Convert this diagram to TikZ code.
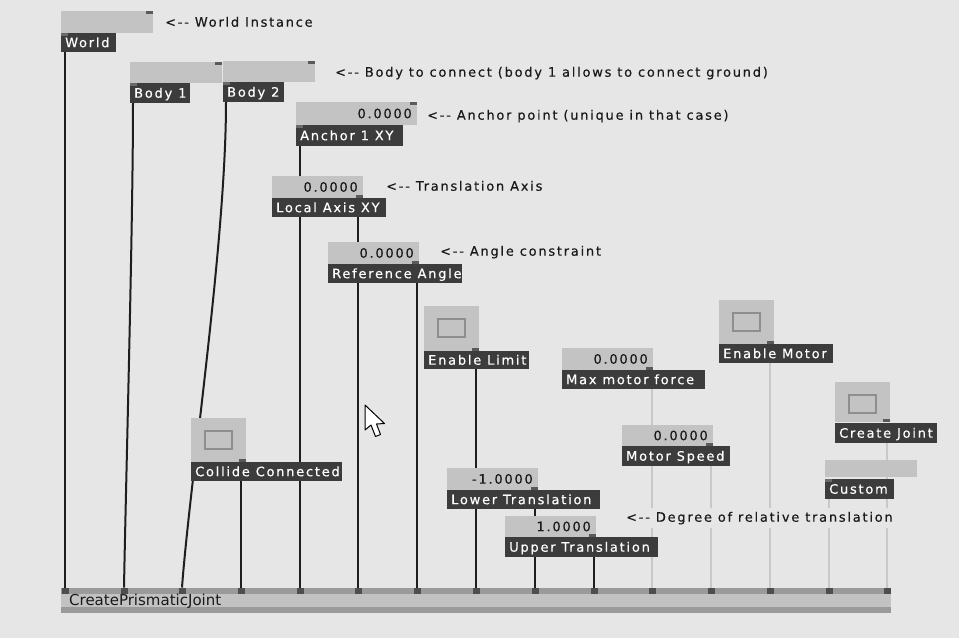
\documentclass[tikz,border=0pt]{standalone}
\usepackage{fontspec}
\newfontfamily\vfont[LetterSpace=13.5,FakeBold=0.4]{DejaVu Sans}
\newfontfamily\nfont{DejaVu Sans}
\newcommand{\lblfont}{\vfont\fontsize{13}{15}\selectfont}
\newcommand{\nodefont}{\nfont\fontsize{15}{17}\selectfont}

\definecolor{canvas}{HTML}{E6E6E6}
\definecolor{valgray}{HTML}{C3C3C3}
\definecolor{lbldark}{HTML}{3C3C3C}
\definecolor{tabdark}{HTML}{5A5A5A}
\definecolor{tablight}{HTML}{6A6A6A}
\definecolor{pinfill}{HTML}{4E4E4E}
\definecolor{numink}{HTML}{1A1A1A}
\definecolor{linkdark}{HTML}{1E1E1E}
\definecolor{linklight}{HTML}{C8C8C8}
\definecolor{nodeedge}{HTML}{9A9A9A}
\definecolor{nodebody}{HTML}{C2C2C2}
\definecolor{togglein}{HTML}{8E8E8E}

\pgfdeclarelayer{canvaslayer}
\pgfdeclarelayer{linklayer}
\pgfsetlayers{canvaslayer,linklayer,main}

\tikzset{
  box/.style={inner sep=0pt, outer sep=0pt, anchor=north west, draw=none},
  valbox/.style={box, fill=valgray},
  lblbox/.style={box, fill=lbldark},
  toggleinner/.style={box, draw=togglein, line width=1.2pt, fill=valgray,
    minimum width=27pt, minimum height=18pt},
  lbltext/.style={anchor=base west, inner sep=0pt, text=white, font=\lblfont},
  numtext/.style={anchor=base east, inner sep=0pt, text=numink, font=\lblfont},
  note/.style={anchor=base west, inner sep=0pt, text=numink, font=\lblfont},
  tabsq/.style={inner sep=0pt, outer sep=0pt, fill=tabdark,
    minimum width=7pt, minimum height=3pt},
  tabsoft/.style={tabsq, fill=tablight},
  pinsq/.style={inner sep=0pt, outer sep=0pt, fill=pinfill,
    minimum width=7pt, minimum height=6pt},
  linkd/.style={draw=linkdark, line width=2pt},
  linkl/.style={draw=linklight, line width=1.9pt},
}

% value box: name, x, y, w, h
\newcommand{\ioval}[5]{\node[valbox, minimum width=#4pt, minimum height=#5pt] (#1) at (#2,#3) {};}
% value box with a number: name, x, y, w, h, number
\newcommand{\ionum}[6]{\ioval{#1}{#2}{#3}{#4}{#5}%
  \node[numtext] (#1t) at ([xshift=-5pt,yshift=-4.7pt]#1.east) {#6};}
% toggle: name, x, y, w, h
\newcommand{\iotoggle}[5]{\ioval{#1}{#2}{#3}{#4}{#5}%
  \node[toggleinner] (#1i) at ([xshift=14pt,yshift=-13pt]#1.north west) {};}
% dark label: name, x, y, w, h, text
\newcommand{\iolabel}[6]{\node[lblbox, minimum width=#4pt, minimum height=#5pt] (#1) at (#2,#3) {};%
  \node[lbltext] (#1t) at ([xshift=4pt,yshift=-4.7pt]#1.west) {#6};}

\begin{document}
\begin{tikzpicture}[x=1pt,y=-1pt]
\useasboundingbox (0,0) rectangle (959,638);
\begin{pgfonlayer}{canvaslayer}
  \fill[canvas] (0,0) rectangle (959,638);
\end{pgfonlayer}

% ---- inputs ----
\ioval{worldV}{61}{11}{92}{22}
\node[tabsq, anchor=north east] (worldVp) at (worldV.north east) {};
\iolabel{worldL}{61}{33}{55}{19}{World}
\node[tabsoft, anchor=north west] (worldLp) at (worldL.north west) {};

\ioval{bodyaV}{130}{62}{92}{21}
\node[tabsq, anchor=north east] (bodyaVp) at (bodyaV.north east) {};
\iolabel{bodyaL}{130}{83}{60}{20}{Body 1}
\node[tabsoft, anchor=north west] (bodyaLp) at (bodyaL.north west) {};

\ioval{bodybV}{223}{61}{92}{21}
\node[tabsq, anchor=north east] (bodybVp) at (bodybV.north east) {};
\iolabel{bodybL}{223}{82}{61}{20}{Body 2}
\node[tabsoft, anchor=north west] (bodybLp) at (bodybL.north west) {};

\ionum{anchorV}{296}{102}{121}{23}{0.0000}
\node[tabsq, anchor=north east] (anchorVp) at (anchorV.north east) {};
\iolabel{anchorL}{296}{125}{107}{21}{Anchor 1 XY}
\node[tabsoft, anchor=north west] (anchorLp) at (anchorL.north west) {};

\ionum{axisV}{272}{176}{91}{22}{0.0000}
\node[tabsq, anchor=south east] (axisVp) at (axisV.south east) {};
\iolabel{axisL}{272}{198}{114}{19}{Local Axis XY}

\ionum{refV}{328}{242}{91}{22}{0.0000}
\node[tabsq, anchor=south east] (refVp) at (refV.south east) {};
\iolabel{refL}{328}{264}{134}{19}{Reference Angle}

\iotoggle{collT}{191}{418}{55}{44}
\node[tabsq, anchor=south east] (collTp) at (collT.south east) {};
\iolabel{collL}{191}{462}{151}{19}{Collide Connected}

\iotoggle{limT}{424}{306}{55}{45}
\node[tabsq, anchor=south east] (limTp) at (limT.south east) {};
\iolabel{limL}{424}{351}{105}{18}{Enable Limit}

\ionum{forceV}{562}{348}{91}{22}{0.0000}
\node[tabsq, anchor=south east] (forceVp) at (forceV.south east) {};
\iolabel{forceL}{562}{370}{143}{19}{Max motor force}

\ionum{speedV}{622}{425}{91}{21}{0.0000}
\node[tabsq, anchor=south east] (speedVp) at (speedV.south east) {};
\iolabel{speedL}{622}{446}{108}{20}{Motor Speed}

\ionum{lowV}{447}{468}{91}{22}{-1.0000}
\node[tabsq, anchor=south east] (lowVp) at (lowV.south east) {};
\iolabel{lowL}{447}{490}{153}{19}{Lower Translation}

\ionum{upV}{505}{516}{91}{21}{1.0000}
\node[tabsq, anchor=south east] (upVp) at (upV.south east) {};
\iolabel{upL}{505}{537}{153}{20}{Upper Translation}

\iotoggle{motT}{719}{300}{55}{44}
\node[tabsq, anchor=south east] (motTp) at (motT.south east) {};
\iolabel{motL}{719}{344}{114}{19}{Enable Motor}

\iotoggle{jointT}{835}{382}{55}{40}
\node[tabsq, anchor=south east] (jointTp) at (jointT.south east) {};
\iolabel{jointL}{835}{423}{102}{20}{Create Joint}

\ioval{custV}{825}{460}{92}{17}
\iolabel{custL}{825}{479}{69}{20}{Custom}
\node[tabsoft, anchor=north west] (custLp) at (custL.north west) {};

% ---- comments ----
\node[note] (noteWorld) at (165,26.7) {<-- World Instance};
\node[note] (noteBody) at (335,76.7) {<-- Body to connect (body 1 allows to connect ground)};
\node[note] (noteAnchor) at (427,119.7) {<-- Anchor point (unique in that case)};
\node[note] (noteAxis) at (386,190.7) {<-- Translation Axis};
\node[note] (noteAngle) at (440,255.7) {<-- Angle constraint};
\node[note, fill=canvas, inner ysep=4pt, inner xsep=1pt] (noteDeg) at (625,521.7) {<-- Degree of relative translation};

% ---- CreatePrismaticJoint node ----
\node[box, fill=nodebody, minimum width=830pt, minimum height=25pt] (cpj) at (61,588) {};
\fill[nodeedge] (cpj.north west) rectangle ([yshift=-6pt]cpj.north east);
\fill[nodeedge] ([yshift=6pt]cpj.south west) rectangle (cpj.south east);
\node[anchor=base west, inner sep=0pt, text=numink, font=\nodefont] (cpjt)
  at ([xshift=8pt,yshift=-5pt]cpj.west) {CreatePrismaticJoint};
\foreach \px [count=\i] in {65,124,182,241,300,358,417,476,535,594,652,711,770,829,887}
  \node[pinsq] (p\i) at (\px,590.5) {};

% ---- links ----
\begin{pgfonlayer}{linklayer}
  \draw[linkd] (p1 |- worldL.south) -- (p1.north);
  \draw[linkd] ([xshift=3pt]bodyaL.south west) .. controls +(0,120) and +(2,-110) .. (p2.north);
  \draw[linkd] ([xshift=3pt]bodybL.south west) .. controls +(0,140) and +(8,-108) .. (p3.north);
  \draw[linkd] (p4 |- collL.south) -- (p4.north);
  \draw[linkd] (p5 |- anchorL.south) -- (p5.north);
  \draw[linkd] (p6 |- axisL.south) -- (p6.north);
  \draw[linkd] (p7 |- refL.south) -- (p7.north);
  \draw[linkd] (p8 |- limL.south) -- (p8.north);
  \draw[linkd] (p9 |- lowL.south) -- (p9.north);
  \draw[linkd] (p10 |- upL.south) -- (p10.north);
  \draw[linkl] (p11 |- forceL.south) -- (p11.north);
  \draw[linkl] (p12 |- speedL.south) -- (p12.north);
  \draw[linkl] (p13 |- motL.south) -- (p13.north);
  \draw[linkl] (p14 |- custL.south) -- (p14.north);
  \draw[linkl] (p15 |- jointL.south) -- (p15.north);
\end{pgfonlayer}

% ---- mouse pointer ----
\filldraw[fill=white, draw=black, line width=1pt, line join=round]
  (365,405) -- (365,430) -- (371,425) -- (375.5,436.5) -- (380.5,434.5)
  -- (376.5,424) -- (384.5,423.5) -- cycle;
\end{tikzpicture}
\end{document}
